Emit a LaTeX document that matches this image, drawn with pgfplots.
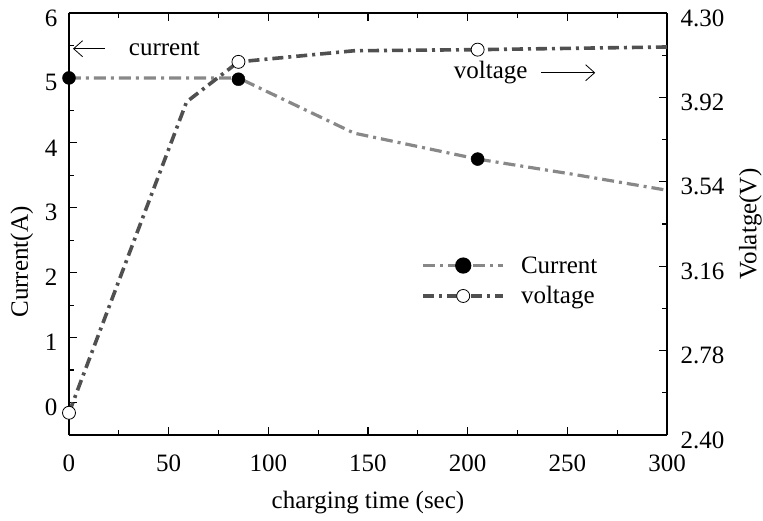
\documentclass[border=0pt]{standalone}
\usepackage{fontspec}
\setmainfont{Liberation Serif}
\usepackage{pgfplots}
\pgfplotsset{compat=1.18}
\usetikzlibrary{arrows.meta}
\definecolor{curcol}{HTML}{888888}
\definecolor{volcol}{HTML}{505050}
\begin{document}
\begin{tikzpicture}
\useasboundingbox (-69bp,-86bp) rectangle (694bp,435bp);
\pgfplotsset{
  every axis/.append style={
    width=598bp, height=422bp, scale only axis,
    anchor=south west, at={(0,0)},
    xmin=0, xmax=300,
    axis line style={line width=1.6bp},
    every tick/.style={black, line width=1.2bp},
    major tick length=8bp, minor tick length=5bp,
    tick align=inside,
    /pgf/number format/assume math mode=true,
    font=\fontsize{25bp}{29bp}\selectfont,
    clip=false,
  },
  curstyle/.style={color=curcol, line width=3.2bp, dash pattern=on 12bp off 5bp on 3bp off 5bp},
  volstyle/.style={color=volcol, line width=3.6bp, dash pattern=on 11bp off 5bp on 3bp off 5bp},
}
\begin{axis}[
  ymin=-0.5, ymax=6,
  xtick={0,50,...,300}, minor x tick num=1,
  ytick={0,1,...,6}, minor y tick num=1,
  axis y line*=left,
  xticklabel style={yshift=-16bp},
  yticklabel style={xshift=-8bp, yshift=-5bp},
  xlabel={charging time (sec)},
  ylabel={Current(A)},
  xlabel style={yshift=-13bp},
  ylabel style={at={(ticklabel cs:0.41,5bp)}},
]
\addplot[curstyle] coordinates {(0,5.0) (85,5.0) (143,4.15) (205,3.75) (252,3.52) (300,3.27)};
\addplot[only marks, mark=*, mark size=6.5bp, black] coordinates {(0,5.0) (85,4.98) (205,3.75)};
\draw[black, line width=0.8bp, {Straight Barb[length=9bp,width=16bp]}-] (axis cs:2,5.45) -- (axis cs:18,5.45);
\node[anchor=west, inner sep=0pt] at (axis cs:30,5.45) {current};
\node[anchor=west, inner sep=0pt] at (axis cs:193,5.08) {voltage};
\draw[black, line width=0.8bp, -{Straight Barb[length=9bp,width=16bp]}] (axis cs:237,5.08) -- (axis cs:264,5.08);
\end{axis}
\begin{axis}[
  ymin=2.40, ymax=4.30,
  axis x line=none,
  axis y line*=right,
  ytick={2.40,2.78,3.16,3.54,3.92,4.30},
  minor ytick={2.59,2.97,3.35,3.73,4.11},
  yticklabel style={xshift=10bp, yshift=-5bp, /pgf/number format/.cd, fixed, fixed zerofill, precision=2},
  ylabel={Volatge(V)},
  ylabel style={at={(ticklabel cs:0.5,8bp)}},
  legend style={at={(0.584,0.365)}, anchor=west, draw=none, fill=none,
    font=\fontsize{25bp}{29bp}\selectfont, row sep=8bp,
    nodes={inner xsep=16bp}},
  legend cell align=left,
  legend image code/.code={\draw[mark repeat=2,mark phase=2,#1] plot coordinates {(0bp,0bp) (40bp,0bp) (80bp,0bp)};},
]
\addplot[volstyle, forget plot] coordinates {(0,2.50) (40,3.45) (59,3.90) (85,4.08) (143,4.13) (205,4.135) (300,4.147)};
\addplot[only marks, mark=*, mark size=6.5bp, draw=black, fill=white, line width=0.8bp, forget plot] coordinates {(0,2.50) (85,4.08) (205,4.135)};
\addlegendimage{curstyle, mark=*, mark size=6.5bp, mark options={solid, black, fill=black}}
\addlegendentry{Current}
\addlegendimage{volstyle, mark=*, mark size=6.5bp, mark options={solid, draw=black, fill=white, line width=0.8bp}}
\addlegendentry{voltage}
\end{axis}
\end{tikzpicture}
\end{document}
